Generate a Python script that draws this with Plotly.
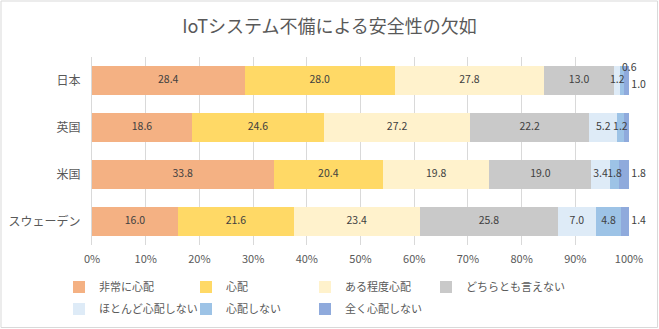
import plotly.graph_objects as go

categories = ["日本", "英国", "米国", "スウェーデン"]
series_names = ["非常に心配", "心配", "ある程度心配", "どちらとも言えない",
                "ほとんど心配しない", "心配しない", "全く心配しない"]
values = {
    "非常に心配":       [28.4, 18.6, 33.8, 16.0],
    "心配":             [28.0, 24.6, 20.4, 21.6],
    "ある程度心配":     [27.8, 27.2, 19.8, 23.4],
    "どちらとも言えない": [13.0, 22.2, 19.0, 25.8],
    "ほとんど心配しない": [1.2, 5.2, 3.4, 7.0],
    "心配しない":       [0.6, 1.2, 1.8, 4.8],
    "全く心配しない":   [1.0, 1.0, 1.8, 1.4],
}
colors = ["#F4B183", "#FFD966", "#FFF2CC", "#C9C9C9", "#DEEBF7", "#9DC3E6", "#8FAADC"]
title = "IoTシステム不備による安全性の欠如"

FONT = "Noto Sans CJK JP"
W, H = 659, 329
fig = go.Figure()
legend_ids = ["legend"] + [f"legend{k}" for k in range(2, 8)]
for i, name in enumerate(series_names):
    fig.add_trace(go.Bar(
        y=categories, x=values[name], name=name, orientation="h",
        marker=dict(color=colors[i], line=dict(width=0)),
        hoverinfo="x+name", legend=legend_ids[i],
    ))

# data labels as a text trace computed from the stacked values
lx, ly, lt, lp = [], [], [], []
small_label = None
for j, cat in enumerate(categories):
    start = 0.0
    for i, name in enumerate(series_names):
        v = values[name][j]
        last = i == len(series_names) - 1
        if name == "心配しない" and v < 1.0:
            small_label = (start, cat, f"{v:.1f}")
        else:
            if last:
                lx.append(start + v)
                lp.append("bottom right" if small_label and small_label[1] == cat else "middle right")
                lt.append(f" {v:.1f}")
            else:
                lx.append(start + v / 2); lp.append("middle center"); lt.append(f"{v:.1f}")
            ly.append(cat)
        start += v
fig.add_trace(go.Scatter(
    x=lx, y=ly, text=lt, mode="text", textposition=lp,
    textfont=dict(family=FONT, size=10.5, color="#404040"),
    showlegend=False, hoverinfo="skip", cliponaxis=False,
))
if small_label:
    fig.add_annotation(x=small_label[0], y=small_label[1], text=small_label[2],
                       xanchor="left", yanchor="middle", yshift=14, showarrow=False,
                       font=dict(family=FONT, size=10.5, color="#404040"))

ML, MR, MT, MB = 92, 30, 57, 84
pw, ph = W - ML - MR, H - MT - MB
fig.add_shape(type="rect", xref="paper", yref="paper",
              x0=(1 - ML) / pw, x1=(W - 1.5 - ML) / pw,
              y0=(H - MB - (H - 1.5)) / ph, y1=(H - MB - 1) / ph,
              line=dict(color="#D9D9D9", width=1), layer="below")

# legend layout: text start x (px) per column, row centre y (px)
col_text_x = [99, 226, 345, 466]
row_y = [287, 309]
legends = {}
for i, lid in enumerate(legend_ids):
    r, c = divmod(i, 4)
    legends[lid] = dict(orientation="h", xref="paper", yref="paper",
                        x=(col_text_x[c] - 40 - ML) / pw,
                        y=(H - MB - row_y[r]) / ph,
                        xanchor="left", yanchor="middle",
                        font=dict(family=FONT, size=11, color="#595959"),
                        bgcolor="rgba(0,0,0,0)", itemclick=False)

fig.update_layout(
    width=W, height=H,
    margin=dict(l=ML, r=MR, t=MT, b=MB, autoexpand=False),
    barmode="stack", bargap=0.40,
    paper_bgcolor="white", plot_bgcolor="white",
    title=dict(text=title, x=0.5, xanchor="center", y=1 - 27 / H, yanchor="middle",
               font=dict(family=FONT, size=18, color="#595959")),
    font=dict(family=FONT, size=11, color="#595959"),
    xaxis=dict(range=[0, 100], tickvals=list(range(0, 101, 10)),
               ticktext=[f"{t}%" for t in range(0, 101, 10)],
               showgrid=True, gridcolor="#D9D9D9", gridwidth=1,
               zeroline=False, showline=False, ticks="", ticklabelstandoff=6,
               automargin=False,
               tickfont=dict(family=FONT, size=11, color="#595959")),
    yaxis=dict(autorange="reversed", showgrid=False, ticks="", ticklen=0,
               ticklabelstandoff=8, automargin=False,
               showline=True, linecolor="#D9D9D9",
               tickfont=dict(family=FONT, size=12, color="#595959")),
    showlegend=True,
    **legends,
)
fig.write_html("out.html")
